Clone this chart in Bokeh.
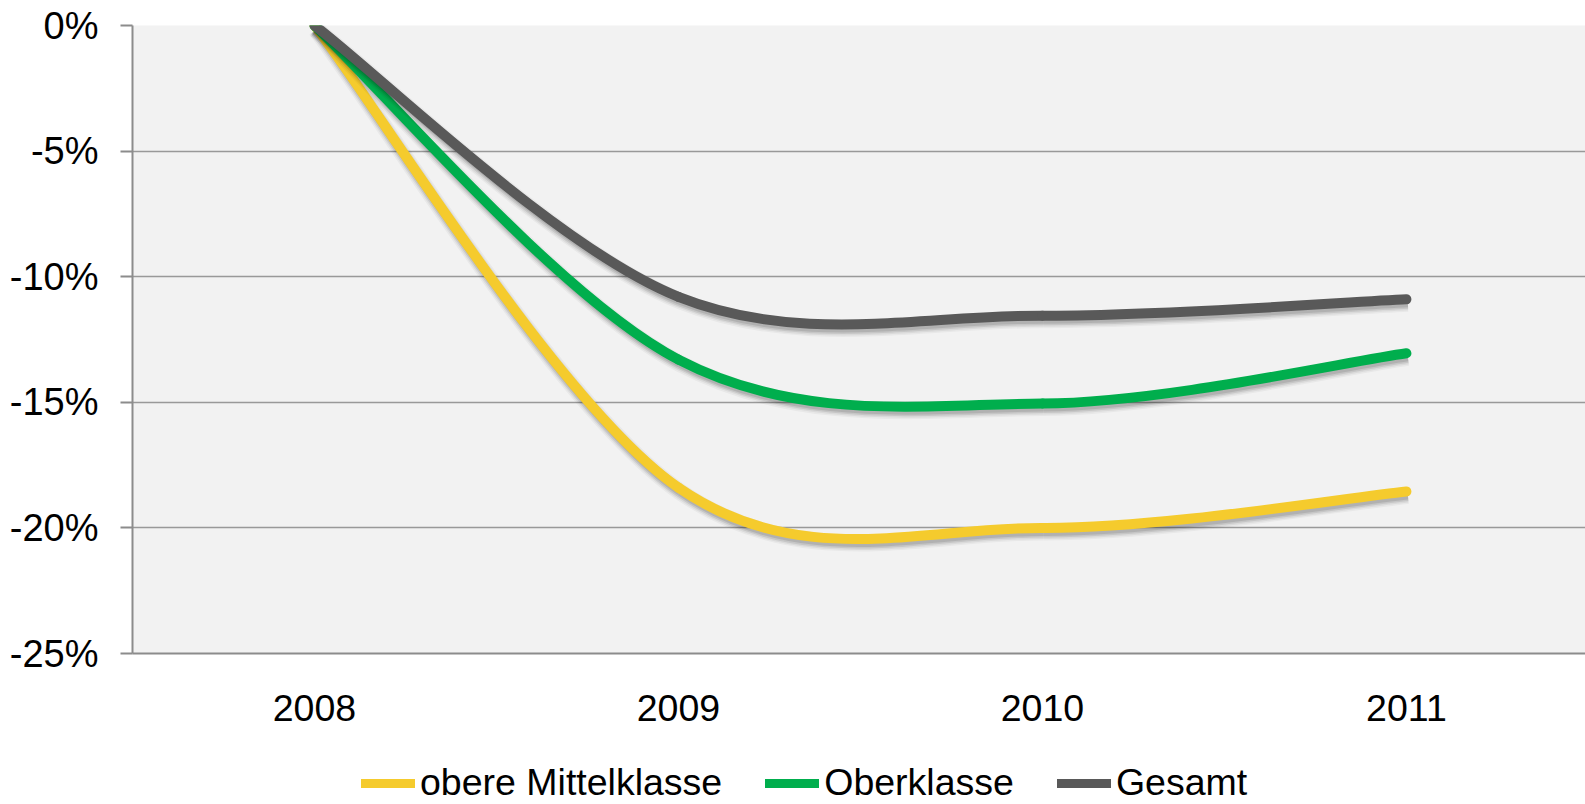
from bokeh.plotting import figure
from bokeh.layouts import column
from bokeh.models import Range1d, FixedTicker, PrintfTickFormatter, Legend, LegendItem
from bokeh.embed import file_html
from bokeh.resources import INLINE

# ---- data ----
years = ["2008", "2009", "2010", "2011"]
obere_mittelklasse = [0.0, -18.4, -20.0, -18.55]
oberklasse = [0.0, -13.3, -15.05, -13.05]
gesamt = [0.0, -10.8, -11.55, -10.9]

series_names = ["obere Mittelklasse", "Oberklasse", "Gesamt"]
series_values = [obere_mittelklasse, oberklasse, gesamt]
series_colors = ["#F5CB2D", "#00AE4D", "#595959"]

xs = list(range(len(years)))

FONT = "Liberation Sans"

p = figure(
    width=1585, height=753,
    output_backend="svg", toolbar_location=None,
    x_range=Range1d(-0.5, 3.492), y_range=Range1d(-25, 0),
    min_border_left=132, min_border_right=0,
    min_border_top=25, min_border_bottom=100,
    background_fill_color="#F2F2F2", border_fill_color="white",
)
p.outline_line_color = None


def smooth_segments(xv, yv):
    """Bezier segments through the data points (Excel-like smoothing)."""
    n = len(yv)
    out = dict(x0=[], y0=[], x1=[], y1=[], cx0=[], cy0=[], cx1=[], cy1=[])
    for i in range(n - 1):
        pr = max(i - 1, 0)
        nx = min(i + 2, n - 1)
        out["x0"].append(xv[i]); out["y0"].append(yv[i])
        out["x1"].append(xv[i + 1]); out["y1"].append(yv[i + 1])
        out["cx0"].append(xv[i] + (xv[i + 1] - xv[pr]) / 6.0)
        out["cy0"].append(yv[i] + (yv[i + 1] - yv[pr]) / 6.0)
        out["cx1"].append(xv[i + 1] - (xv[nx] - xv[i]) / 6.0)
        out["cy1"].append(yv[i + 1] - (yv[nx] - yv[i]) / 6.0)
    return out


def shifted(seg, dx, dy):
    s = {}
    for k, v in seg.items():
        if k.startswith("x") or k.startswith("cx"):
            s[k] = [a + dx for a in v]
        else:
            s[k] = [a + dy for a in v]
    return s


# shadow offset (px -> data units)
px_x = 364.0
px_y = 25.12
sdx = 1.5 / px_x
sdy = -4.0 / px_y

# second small figure that only carries the legend (its ranges show none of the data)
lg = figure(
    width=1585, height=51,
    output_backend="svg", toolbar_location=None,
    x_range=Range1d(100, 101), y_range=Range1d(100, 101),
    min_border_left=0, min_border_right=0, min_border_top=0, min_border_bottom=0,
    background_fill_color="white", border_fill_color="white",
)
lg.outline_line_color = None
lg.axis.visible = False
lg.grid.visible = False

legend_items = []
for name, vals, col in zip(series_names, series_values, series_colors):
    seg = smooth_segments(xs, vals)
    sh = shifted(seg, sdx, sdy)
    for w, a in [(17, 0.04), (14, 0.06), (11, 0.09), (8, 0.10)]:
        p.bezier(**sh, line_color="black", line_alpha=a, line_width=w, line_cap="butt")
    p.bezier(**seg, line_color=col, line_width=10, line_cap="round")
    proxy = lg.line(xs, vals, line_color=col, line_width=9, line_cap="round")
    legend_items.append(LegendItem(label=name, renderers=[proxy]))

# axes
p.yaxis.ticker = FixedTicker(ticks=[-25, -20, -15, -10, -5, 0])
p.yaxis.formatter = PrintfTickFormatter(format="%d%%")
p.yaxis.major_tick_out = 12
p.yaxis.major_tick_in = 0
p.yaxis.minor_tick_line_color = None
p.yaxis.axis_line_color = "#8C8C8C"
p.yaxis.axis_line_width = 2
p.yaxis.major_tick_line_color = "#8C8C8C"
p.yaxis.major_tick_line_width = 2
p.yaxis.major_label_text_font = FONT
p.yaxis.major_label_text_font_size = "38px"
p.yaxis.major_label_text_color = "black"
p.yaxis.major_label_standoff = 22

p.xaxis.ticker = FixedTicker(ticks=xs)
p.xaxis.major_label_overrides = {i: y for i, y in zip(xs, years)}
p.xaxis.major_tick_out = 0
p.xaxis.major_tick_in = 0
p.xaxis.minor_tick_line_color = None
p.xaxis.axis_line_color = "#8C8C8C"
p.xaxis.axis_line_width = 2
p.xaxis.major_label_text_font = FONT
p.xaxis.major_label_text_font_size = "37.5px"
p.xaxis.major_label_text_color = "black"
p.xaxis.major_label_standoff = 41

p.xgrid.grid_line_color = None
p.ygrid.grid_line_color = "#999999"
p.ygrid.grid_line_width = 1.5

legend = Legend(
    items=legend_items,
    orientation="horizontal",
    location=(229, 0),
    label_text_font=FONT,
    label_text_font_size="37.5px",
    label_text_color="black",
    glyph_width=54,
    glyph_height=30,
    label_standoff=5,
    spacing=43,
    padding=0,
    margin=0,
    border_line_color=None,
    background_fill_alpha=0,
)
lg.add_layout(legend, "center")

layout = column(p, lg, spacing=0)
open("out.html", "w").write(file_html(layout, INLINE))
